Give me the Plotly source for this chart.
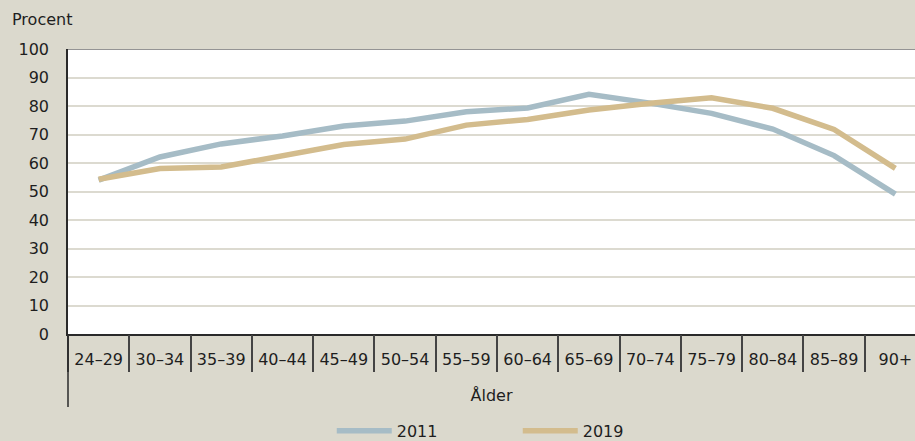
import plotly.graph_objects as go

categories = ["24–29", "30–34", "35–39", "40–44", "45–49", "50–54", "55–59",
              "60–64", "65–69", "70–74", "75–79", "80–84", "85–89", "90+"]
values_2011 = [54.0, 62.1, 66.7, 69.5, 73.0, 74.7, 78.0, 79.3, 84.1, 81.0, 77.4, 71.9, 62.6, 49.1]
values_2019 = [54.3, 58.1, 58.6, 62.5, 66.5, 68.4, 73.3, 75.3, 78.6, 81.0, 82.9, 79.2, 71.8, 58.1]
y_ticks = list(range(0, 101, 10))

BG = "#dbd9cd"
C2011 = "#a6bcc6"
C2019 = "#d3bc8d"
FONT = "DejaVu Sans"
TXT = "#1e1e1e"

fig = go.Figure()
fig.add_trace(go.Scatter(x=categories, y=values_2011, name="2011", mode="lines",
                         line=dict(color=C2011, width=5.5)))
fig.add_trace(go.Scatter(x=categories, y=values_2019, name="2019", mode="lines",
                         line=dict(color=C2019, width=5.5)))
# invisible helper trace for the boundary tick axis
fig.add_trace(go.Scatter(x=categories, y=values_2011, xaxis="x2", mode="lines",
                         line=dict(color="rgba(0,0,0,0)", width=0),
                         showlegend=False, hoverinfo="skip"))

xr = [-0.5, 13.32]
fig.update_layout(
    width=915, height=441,
    margin=dict(l=68, r=0, t=49, b=107, autoexpand=False),
    paper_bgcolor=BG, plot_bgcolor="white",
    font=dict(family=FONT, size=16, color=TXT),
    showlegend=True,
    legend=dict(orientation="h", x=0.531, xanchor="center", y=-0.34, yanchor="middle",
                bgcolor="rgba(0,0,0,0)", font=dict(size=16, color=TXT),
                entrywidth=116, itemwidth=55),
    xaxis=dict(type="category", categoryorder="array", categoryarray=categories,
               range=xr, showgrid=False, zeroline=False, automargin=False,
               showline=True, linecolor="#2a2a2a", linewidth=1.5,
               ticks="outside", ticklen=10, tickcolor="rgba(0,0,0,0)",
               title=dict(text="Ålder", standoff=22, font=dict(size=16, color=TXT))),
    xaxis2=dict(type="category", categoryorder="array", categoryarray=categories,
                range=xr, overlaying="x", anchor="y", side="bottom",
                showgrid=False, zeroline=False, showline=False, showticklabels=False,
                ticks="outside", ticklen=37, tickwidth=1.5, tickcolor="#444444",
                tickson="boundaries"),
    yaxis=dict(range=[0, 100], tickvals=y_ticks, showgrid=True, automargin=False,
               gridcolor="#dcdad0", gridwidth=1.5, zeroline=False,
               showline=True, linecolor="#2a2a2a", linewidth=1.5,
               ticks="outside", ticklen=14, tickcolor="rgba(0,0,0,0)"),
)

# top border line and left axis extension
fig.add_shape(type="line", xref="paper", yref="y", x0=0, x1=1, y0=100, y1=100,
              line=dict(color="#707070", width=1.5))
fig.add_shape(type="line", xref="paper", yref="paper", x0=0, x1=0, y0=0, y1=-0.256,
              line=dict(color="#2a2a2a", width=1.5))

fig.add_annotation(text="Procent", xref="paper", yref="paper", x=-68/847, y=1 + 29/285,
                   xanchor="left", yanchor="middle", showarrow=False,
                   font=dict(size=16, color=TXT), xshift=10)

fig.write_html("out.html", config={"displayModeBar": False},
               post_script="document.body.style.margin='0';document.body.style.overflow='hidden';")
